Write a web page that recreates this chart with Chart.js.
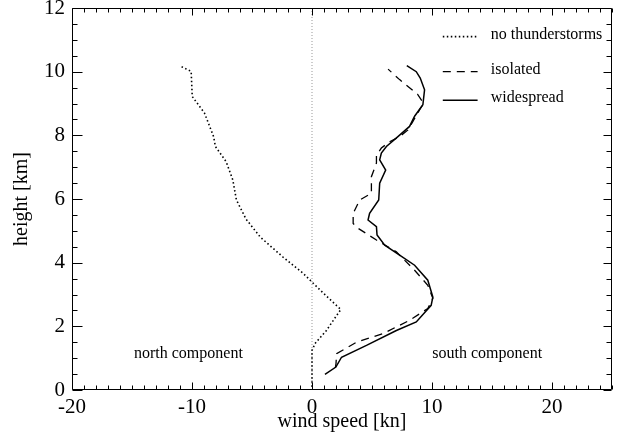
<!DOCTYPE html>
<html>
<head>
<meta charset="utf-8">
<script src="https://cdn.jsdelivr.net/npm/chart.js@4.4.0/dist/chart.umd.min.js"></script>
<style>
  html, body { margin: 0; padding: 0; background: #fff; }
  #wrap { width: 618px; height: 442px; }
</style>
</head>
<body>
<div id="wrap"><canvas id="chart" width="618" height="442"></canvas></div>
<script>
const xTicks = [-20, -10, 0, 10, 20];
const yTicks = [0, 2, 4, 6, 8, 10, 12];

const seriesLabels = ["no thunderstorms", "isolated", "widespread"];
const panelLabels = ["north component", "south component"];

// no thunderstorms (dotted)
const noStormSpeed = [0.0, 0.0, 0.25, 1.2, 2.4, 1.2, 0.0, -0.75, -2.4, -4.3, -5.5, -6.3, -6.6, -7.15, -8.05, -8.2, -8.96, -9.98, -10.07, -10.95];
const noStormHeight = [0.1, 1.24, 1.46, 1.87, 2.53, 2.95, 3.39, 3.67, 4.17, 4.8, 5.37, 5.97, 6.6, 7.17, 7.65, 7.96, 8.7, 9.22, 10.01, 10.17];

// isolated (dashed)
const isolatedSpeed = [1.95, 2.0, 2.05, 3.7, 5.92, 8.13, 9.65, 10.07, 9.65, 8.55, 7.03, 5.37, 3.84, 3.43, 3.43, 3.98, 4.95, 4.95, 5.37, 5.37, 5.78, 6.47, 7.3, 8.0, 8.4, 8.96, 9.3, 8.82, 7.3, 6.34];
const isolatedHeight = [0.7, 0.83, 1.14, 1.5, 1.77, 2.19, 2.56, 2.88, 3.29, 3.76, 4.34, 4.71, 5.08, 5.23, 5.55, 5.97, 6.18, 6.7, 7.13, 7.38, 7.6, 7.8, 7.96, 8.17, 8.43, 8.8, 9.0, 9.28, 9.75, 10.08];

// widespread (solid)
const widespreadSpeed = [1.08, 1.99, 2.46, 4.54, 7.03, 8.69, 9.93, 10.07, 9.65, 8.55, 7.3, 6.06, 5.42, 5.37, 4.67, 4.8, 5.56, 5.64, 6.14, 5.64, 5.78, 6.2, 7.16, 8.13, 8.55, 9.24, 9.38, 9.02, 8.69, 7.9];
const widespreadHeight = [0.49, 0.72, 1.03, 1.4, 1.87, 2.14, 2.66, 2.92, 3.45, 3.92, 4.24, 4.55, 4.87, 5.13, 5.34, 5.55, 5.97, 6.5, 6.91, 7.23, 7.44, 7.65, 7.96, 8.28, 8.6, 8.96, 9.43, 9.8, 10.0, 10.19];

const zeroSpeed = [0, 0];
const zeroHeight = [0, 12];

const FONT = "'Liberation Serif', 'Times New Roman', serif";

function toPoints(xs, ys) {
  return xs.map((x, i) => ({ x: x, y: ys[i] }));
}

const styles = [
  { borderDash: [1.5, 2.5], borderWidth: 1.6 },
  { borderDash: [8, 6], borderWidth: 1.3 },
  { borderDash: [], borderWidth: 1.5 },
];

// box, inward ticks, legend and the two notes
const framePlugin = {
  id: "frame",
  afterDraw(chart) {
    const ctx = chart.ctx;
    const a = chart.chartArea;
    const xs = chart.scales.x, ys = chart.scales.y;
    const L = Math.round(a.left) + 0.5, R = Math.round(a.right) - 0.5;
    const T = Math.round(a.top) + 0.5, B = Math.round(a.bottom) - 0.5;
    ctx.save();
    ctx.setLineDash([]);
    ctx.strokeStyle = "#000000";
    ctx.lineWidth = 1;
    ctx.beginPath();
    ctx.moveTo(L, T); ctx.lineTo(R, T); ctx.lineTo(R, B); ctx.lineTo(L, B); ctx.closePath();
    for (let v = -20; v <= 25; v += 1) {
      const px = Math.round(xs.getPixelForValue(v)) + 0.5;
      const len = v % 10 === 0 ? 7 : 4;
      ctx.moveTo(px, B); ctx.lineTo(px, B - len);
      ctx.moveTo(px, T); ctx.lineTo(px, T + len);
    }
    for (let v = 0; v <= 12; v += 0.5) {
      const py = Math.round(ys.getPixelForValue(v)) + 0.5;
      const major = v % 2 === 0;
      ctx.moveTo(L, py); ctx.lineTo(L + (major ? 10 : 5), py);
      ctx.moveTo(R, py); ctx.lineTo(R - (major ? 8 : 5), py);
    }
    ctx.stroke();

    // legend
    const legendRows = [11.1, 10.0, 9.1];
    ctx.font = "16px " + FONT;
    ctx.fillStyle = "#000";
    ctx.textBaseline = "alphabetic";
    ctx.textAlign = "left";
    seriesLabels.forEach((label, i) => {
      const y = ys.getPixelForValue(legendRows[i]);
      ctx.beginPath();
      ctx.lineWidth = styles[i].borderWidth;
      ctx.setLineDash(styles[i].borderDash);
      ctx.moveTo(xs.getPixelForValue(10.9), y);
      ctx.lineTo(xs.getPixelForValue(13.8), y);
      ctx.stroke();
      ctx.fillText(label, xs.getPixelForValue(14.9), y + 2);
    });

    // panel notes
    ctx.textAlign = "center";
    ctx.fillText(panelLabels[0], xs.getPixelForValue(-10.3), ys.getPixelForValue(1.0));
    ctx.fillText(panelLabels[1], xs.getPixelForValue(14.6), ys.getPixelForValue(1.0));
    ctx.restore();
  },
};

new Chart(document.getElementById("chart"), {
  type: "scatter",
  data: {
    datasets: [
      {
        label: seriesLabels[0],
        data: toPoints(noStormSpeed, noStormHeight),
        borderColor: "#000",
        ...styles[0],
      },
      {
        label: seriesLabels[1],
        data: toPoints(isolatedSpeed, isolatedHeight),
        borderColor: "#000",
        ...styles[1],
      },
      {
        label: seriesLabels[2],
        data: toPoints(widespreadSpeed, widespreadHeight),
        borderColor: "#000",
        ...styles[2],
      },
      {
        label: "zero",
        data: toPoints(zeroSpeed, zeroHeight),
        borderColor: "#999",
        borderDash: [1, 2],
        borderWidth: 1,
        order: 10,
      },
    ],
  },
  options: {
    responsive: false,
    animation: false,
    devicePixelRatio: 1,
    showLine: true,
    elements: { point: { radius: 0 }, line: { tension: 0 } },
    layout: { padding: { top: 8, right: 6, left: 0, bottom: 0 } },
    plugins: { legend: { display: false }, tooltip: { enabled: false } },
    scales: {
      x: {
        type: "linear",
        min: -20,
        max: 25,
        afterBuildTicks: (s) => { s.ticks = xTicks.map((v) => ({ value: v })); },
        afterFit: (s) => { s.height = 52; s.paddingLeft = 0; s.paddingRight = 0; },
        grid: { display: false, drawTicks: false },
        border: { display: false },
        ticks: { color: "#000", font: { family: FONT, size: 21 }, padding: 5, maxRotation: 0 },
        title: {
          display: true,
          text: "wind speed [kn]",
          color: "#000",
          font: { family: FONT, size: 20 },
          padding: { top: 0, bottom: 8 },
        },
      },
      y: {
        type: "linear",
        min: 0,
        max: 12,
        afterBuildTicks: (s) => { s.ticks = yTicks.map((v) => ({ value: v })); },
        afterFit: (s) => { s.width = 72; s.paddingTop = 0; s.paddingBottom = 0; },
        grid: { display: false, drawTicks: false },
        border: { display: false },
        ticks: { color: "#000", font: { family: FONT, size: 21 }, padding: 7 },
        title: {
          display: true,
          text: "height [km]",
          color: "#000",
          font: { family: FONT, size: 20 },
          padding: { top: 10, bottom: 0 },
        },
      },
    },
  },
  plugins: [framePlugin],
});
</script>
</body>
</html>
